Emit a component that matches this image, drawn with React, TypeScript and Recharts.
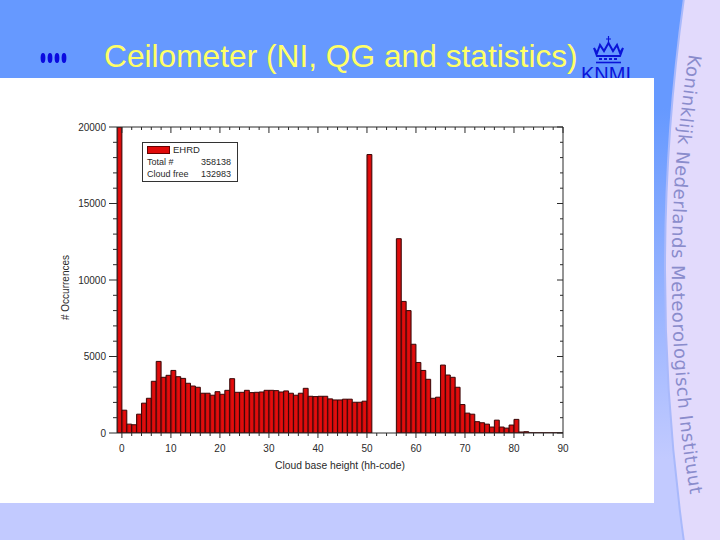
import React from 'react'
import { BarChart, Bar, XAxis, YAxis, Legend } from 'recharts'

// bin centres sit half a code off the tick marks
const binCentres = [
  -0.5, 0.5, 1.5, 2.5, 3.5, 4.5, 5.5, 6.5, 7.5, 8.5, 9.5, 10.5, 11.5, 12.5, 13.5, 14.5, 15.5, 16.5, 17.5, 18.5,
  19.5, 20.5, 21.5, 22.5, 23.5, 24.5, 25.5, 26.5, 27.5, 28.5, 29.5, 30.5, 31.5, 32.5, 33.5, 34.5, 35.5, 36.5, 37.5, 38.5,
  39.5, 40.5, 41.5, 42.5, 43.5, 44.5, 45.5, 46.5, 47.5, 48.5, 49.5, 50.5, 51.5, 52.5, 53.5, 54.5, 55.5, 56.5, 57.5, 58.5,
  59.5, 60.5, 61.5, 62.5, 63.5, 64.5, 65.5, 66.5, 67.5, 68.5, 69.5, 70.5, 71.5, 72.5, 73.5, 74.5, 75.5, 76.5, 77.5, 78.5,
  79.5, 80.5, 81.5, 82.5, 83.5, 84.5, 85.5, 86.5, 87.5, 88.5, 89.5,
]
const occurrences = [
  20000, 1490, 580, 540, 1230, 1950, 2270, 3380, 4680, 3640, 3770, 4090, 3680, 3570, 3250, 3070, 2990, 2600, 2600, 2470,
  2700, 2530, 2790, 3550, 2660, 2660, 2790, 2640, 2660, 2680, 2790, 2790, 2770, 2680, 2750, 2600, 2470, 2600, 2920, 2400,
  2380, 2400, 2400, 2230, 2160, 2160, 2210, 2210, 2010, 2010, 2080, 18200, 0, 0, 0, 0, 0, 12700, 8600, 8000,
  5800, 4610, 4090, 3510, 2270, 2340, 4440, 3790, 3640, 2990, 1860, 1300, 1230, 740, 670, 580, 390, 840, 390, 320,
  520, 890, 65, 85, 10, 10, 10, 10, 10, 10, 10,
]
const xTicks = [0, 2, 4, 6, 8, 10, 12, 14, 16, 18, 20, 22, 24, 26, 28, 30, 32, 34, 36, 38, 40, 42, 44, 46, 48, 50, 52, 54, 56, 58, 60, 62, 64, 66, 68, 70, 72, 74, 76, 78, 80, 82, 84, 86, 88, 90]
const yTicks = [0, 1000, 2000, 3000, 4000, 5000, 6000, 7000, 8000, 9000, 10000, 11000, 12000, 13000, 14000, 15000, 16000, 17000, 18000, 19000, 20000]
const seriesName = 'EHRD'
const legendRows = [['Total #', '358138'], ['Cloud free', '132983']]
const slideTitle = 'Ceilometer (NI, QG and statistics)'
const sideText = 'Koninklijk Nederlands Meteorologisch Instituut'

const data = binCentres.map((x, i) => ({ x, value: occurrences[i] }))
const font = '"Liberation Sans", Arial, sans-serif'
const ink = '#2a2a2a'

const BottomTick = (p: any) => {
  const major = p.payload.value % 10 === 0
  return (
    <g>
      <line x1={p.x} x2={p.x} y1={p.y} y2={p.y + (major ? 5 : 3)} stroke={ink} />
      {major && <text x={p.x} y={p.y + 19} textAnchor="middle" fontSize={10} fill={ink} fontFamily={font}>{p.payload.value}</text>}
    </g>
  )
}
const TopTick = (p: any) => {
  const major = p.payload.value % 10 === 0
  return <line x1={p.x} x2={p.x} y1={p.y} y2={p.y + (major ? 6 : 3)} stroke={ink} />
}
const LeftTick = (p: any) => {
  const major = p.payload.value % 5000 === 0
  return (
    <g>
      <line x1={p.x} x2={p.x - (major ? 8 : 4)} y1={p.y} y2={p.y} stroke={ink} />
      {major && <text x={p.x - 11} y={p.y + 3.5} textAnchor="end" fontSize={10} fill={ink} fontFamily={font}>{p.payload.value}</text>}
    </g>
  )
}
const RightTick = (p: any) => {
  const major = p.payload.value % 5000 === 0
  return <line x1={p.x} x2={p.x - (major ? 6 : 3)} y1={p.y} y2={p.y} stroke={ink} />
}

const LegendBox = () => (
  <div style={{ width: 96, height: 40, border: '1px solid #333', background: '#fff', fontFamily: font, fontSize: 9, color: ink, lineHeight: '12px', padding: '1px 0 0 4px', boxSizing: 'border-box' }}>
    <div style={{ display: 'flex', alignItems: 'center', fontSize: 9.5 }}>
      <span style={{ width: 23, height: 8, background: '#e00a0a', border: '1px solid #600', boxSizing: 'border-box', marginRight: 3 }} />
      {seriesName}
    </div>
    {legendRows.map((r) => (
      <div key={r[0]} style={{ display: 'flex', justifyContent: 'space-between', paddingRight: 6 }}>
        <span>{r[0]}</span>
        <span>{r[1]}</span>
      </div>
    ))}
  </div>
)

const Slide = () => (
  <svg width={720} height={540} style={{ position: 'absolute', left: 0, top: 0 }}>
    <defs>
      <linearGradient id="slideBg" x1="0" y1="0" x2="0" y2="1">
        <stop offset="0.2" stopColor="#6699ff" />
        <stop offset="0.85" stopColor="#c2caff" />
      </linearGradient>
      <path id="sideCurve" d="M 689 54 Q 654 275 690 494" />
    </defs>
    <rect width={720} height={540} fill="url(#slideBg)" />
    <path d="M 684 -2 Q 646 270 684 542 L 730 542 L 730 -2 Z" fill="#e2dafc" stroke="#a9b9fb" strokeWidth={2} />
    <text fontSize={18} fill="#8a8ccc" fontFamily='"DejaVu Sans", sans-serif' letterSpacing={0.55}>
      <textPath href="#sideCurve">{sideText}</textPath>
    </text>
    {[44, 51, 58, 65].map((x) => (
      <ellipse key={x} cx={x - 1} cy={58} rx={2.4} ry={5} fill="#0a0ae0" />
    ))}
    <text x={104} y={67} fontSize={31.7} fill="#ffff66" fontFamily={font}>{slideTitle}</text>
    <g fill="#0a14d8" stroke="#0a14d8">
      <path d="M 594 48 L 597 53 L 600 45 L 604 51 L 608.500 43 L 613 51 L 617 45 L 620 53 L 623 48 L 620 56 L 597 56 Z" fill="none" strokeWidth={2} />
      <path d="M 608.500 36 V 43 M 606 39 H 611" fill="none" strokeWidth={1.2} />
      <path d="M 599 59 H 619" fill="none" strokeWidth={2} strokeDasharray="3 2" />
      <path d="M 596 62.500 H 621" fill="none" strokeWidth={1.6} />
    </g>
    <text x={581} y={81} fontSize={20} fill="#0a14d8" fontFamily={font}>KNMI</text>
    <rect x={0} y={78} width={654} height={425} fill="#fff" />
  </svg>
)

export default function App() {
  return (
    <div style={{ position: 'fixed', left: 0, top: 0, width: 720, height: 540, overflow: 'hidden' }}>
      <Slide />
      <div style={{ position: 'absolute', left: 0, top: 78 }}>
        <BarChart width={654} height={425} data={data} margin={{ top: 48, right: 90, bottom: 40, left: 57 }} barCategoryGap={0}>
          <defs>
            <linearGradient id="barFill" x1="0" y1="0" x2="1" y2="0">
              <stop offset="0" stopColor="#b01212" />
              <stop offset="0.55" stopColor="#ec0a0a" />
              <stop offset="1" stopColor="#b81010" />
            </linearGradient>
          </defs>
          <XAxis dataKey="x" type="number" domain={[-1, 90]} ticks={xTicks} interval={0} height={30} stroke={ink} tickLine={false} tickSize={0} tickMargin={0} tick={BottomTick} allowDataOverflow />
          <XAxis xAxisId="top" orientation="top" dataKey="x" type="number" domain={[-1, 90]} ticks={xTicks} interval={0} height={1} stroke={ink} tickLine={false} tickSize={0} tickMargin={0} tick={TopTick} allowDataOverflow />
          <YAxis domain={[0, 20000]} ticks={yTicks} interval={0} width={60} stroke={ink} tickLine={false} tickSize={0} tickMargin={0} tick={LeftTick} allowDataOverflow />
          <YAxis yAxisId="right" orientation="right" domain={[0, 20000]} ticks={yTicks} interval={0} width={1} stroke={ink} tickLine={false} tickSize={0} tickMargin={0} tick={RightTick} allowDataOverflow />
          <Legend content={LegendBox} layout="vertical" verticalAlign="middle" align="center" wrapperStyle={{ left: 142, top: 64, width: 96 }} />
          <Bar dataKey="value" name={seriesName} barSize={4.9} fill="url(#barFill)" stroke="#3a0606" strokeWidth={1} isAnimationActive={false} />
        </BarChart>
      </div>
      <div style={{ position: 'absolute', left: 240, top: 460, width: 200, textAlign: 'center', font: `10.300px ${font}`, color: ink }}>Cloud base height (hh-code)</div>
      <div style={{ position: 'absolute', left: 15, top: 282, width: 100, textAlign: 'center', font: `10px ${font}`, color: ink, transform: 'rotate(-90deg)' }}># Occurrences</div>
    </div>
  )
}
